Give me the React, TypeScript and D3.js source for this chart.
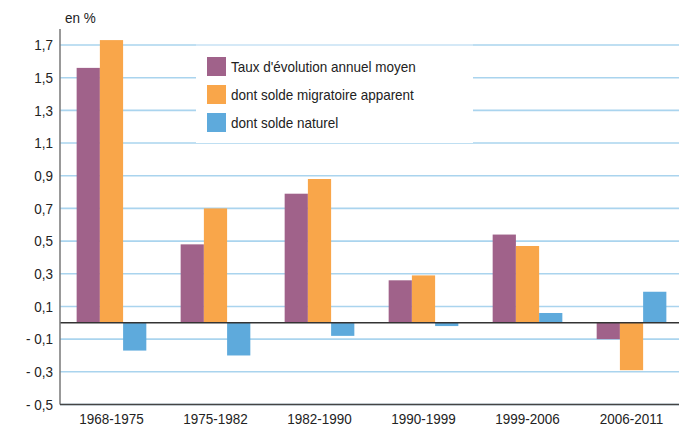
import React from "react";
import * as d3 from "d3";

const periods = ["1968-1975", "1975-1982", "1982-1990", "1990-1999", "1999-2006", "2006-2011"];
const tauxEvolution = [1.56, 0.48, 0.79, 0.26, 0.54, -0.1];
const soldeMigratoire = [1.73, 0.7, 0.88, 0.29, 0.47, -0.29];
const soldeNaturel = [-0.17, -0.2, -0.08, -0.02, 0.06, 0.19];
const yTicks = [1.7, 1.5, 1.3, 1.1, 0.9, 0.7, 0.5, 0.3, 0.1, -0.1, -0.3, -0.5];
const seriesNames = ["Taux d'évolution annuel moyen", "dont solde migratoire apparent", "dont solde naturel"];
const colors = ["#a0628a", "#f9a64a", "#5eaadc"];

const W = 679;
const H = 426;
const FONT = "'Liberation Sans Narrow', 'Arial Narrow', 'Liberation Sans', sans-serif";

// condensed text, the reference uses a narrow face
function T(props: { x: number; y: number; anchor?: string; children: React.ReactNode; dy?: string }) {
  return (
    <g transform={`translate(${props.x},${props.y}) scale(0.9,1)`}>
      <text dy={props.dy} textAnchor={props.anchor || "start"} fontFamily={FONT} fontSize={15} fill="#222">
        {props.children}
      </text>
    </g>
  );
}

export default function App() {
  const left = 60;
  const right = 679;
  const y = d3.scaleLinear().domain([-0.5, 1.7]).range([404.5, 45]);
  const x0 = d3.scaleBand().domain(periods).range([left, 683]).paddingInner(0.33).paddingOuter(0.16);
  const keys = ["t", "m", "n"];
  const x1 = d3.scaleBand().domain(keys).range([0, x0.bandwidth()]);
  const series = [tauxEvolution, soldeMigratoire, soldeNaturel];
  const fmt = (v: number) => {
    const s = Math.abs(v).toFixed(1).replace(".", ",");
    return v < 0 ? "- " + s : s;
  };

  return (
    <svg width={W} height={H} style={{ position: "absolute", left: 0, top: 0, background: "#fff" }}>
      {/* grid */}
      {yTicks.map((t) => (
        <line key={t} x1={left} x2={right} y1={y(t)} y2={y(t)} stroke="#aad4ee" strokeWidth={1.6} />
      ))}
      {/* legend box */}
      <rect x={196} y={46.5} width={277} height={96.5} fill="#fff" />
      <line x1={196} x2={473} y1={y(1.7)} y2={y(1.7)} stroke="#dcedf8" strokeWidth={1.6} />
      {/* bars */}
      {periods.map((p, i) => (
        <g key={p} transform={`translate(${x0(p)},0)`}>
          {series.map((s, j) => {
            const v = s[i];
            return (
              <rect
                key={j}
                x={x1(keys[j])}
                y={y(Math.max(0, v))}
                width={x1.bandwidth()}
                height={Math.abs(y(v) - y(0))}
                fill={colors[j]}
              />
            );
          })}
        </g>
      ))}
      {/* zero line */}
      <line x1={left} x2={right} y1={y(0)} y2={y(0)} stroke="#333" strokeWidth={1.6} />
      {/* axes */}
      <line x1={left} x2={left} y1={29} y2={y(-0.5)} stroke="#777" strokeWidth={1.5} />
      <line x1={left} x2={right} y1={y(-0.5)} y2={y(-0.5)} stroke="#444" strokeWidth={1.5} />
      {yTicks.map((t) => (
        <T key={t} x={53} y={y(t)} dy="0.35em" anchor="end">{fmt(t)}</T>
      ))}
      <T x={65} y={23}>en %</T>
      {periods.map((p) => (
        <T key={p} x={(x0(p) as number) + x0.bandwidth() / 2} y={424} anchor="middle">{p}</T>
      ))}
      {/* legend */}
      {seriesNames.map((n, j) => (
        <g key={n} transform={`translate(207,${57 + j * 28})`}>
          <rect width={19} height={19} fill={colors[j]} />
          <T x={24} y={9.5} dy="0.35em">{n}</T>
        </g>
      ))}
    </svg>
  );
}
